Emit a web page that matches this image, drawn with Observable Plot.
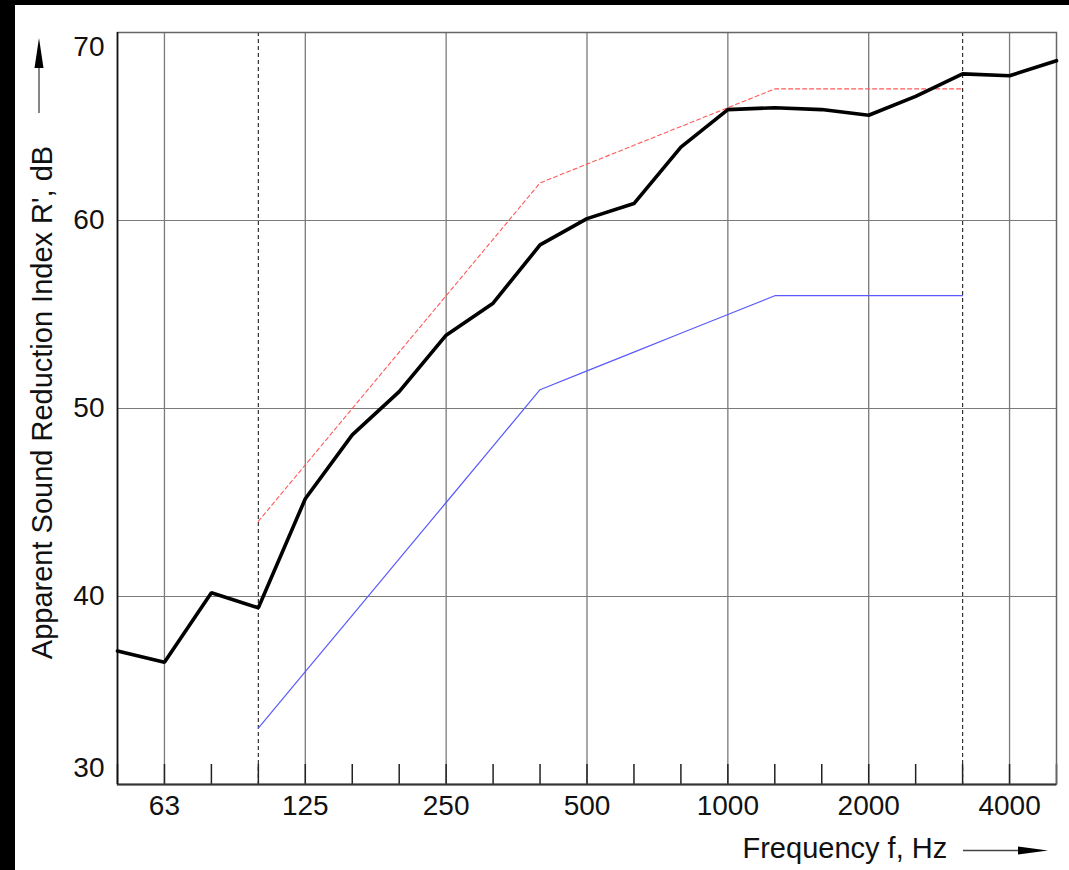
<!DOCTYPE html>
<html><head><meta charset="utf-8">
<script src="https://cdn.jsdelivr.net/npm/d3@7"></script>
<script src="https://cdn.jsdelivr.net/npm/@observablehq/plot@0.6"></script>
<style>
html,body{margin:0;padding:0;background:#fff;}
#wrap{position:relative;width:1069px;height:870px;overflow:hidden;background:#fff;}
#wrap svg{position:absolute;left:0;top:0;display:block;}
.bt{position:absolute;left:0;top:0;width:1069px;height:5px;background:#000;z-index:2;}
.bl{position:absolute;left:0;top:0;width:15px;height:870px;background:#000;z-index:2;}
</style></head><body>
<div id="wrap"><div class="bt"></div><div class="bl"></div></div>
<script>
// one-third octave band centre frequencies (Hz)
const bands = ["50","63","80","100","125","160","200","250","315","400","500","630","800","1000","1250","1600","2000","2500","3150","4000","5000"];
// measured apparent sound reduction index R' (dB), black curve
const measured = [37.1,36.5,40.2,39.4,45.2,48.6,50.9,53.9,55.6,58.7,60.1,60.9,63.9,65.9,66.0,65.9,65.6,66.6,67.8,67.7,68.5];
// reference curve bands (100 - 3150 Hz)
const refBands = ["100","125","160","200","250","315","400","500","630","800","1000","1250","1600","2000","2500","3150"];
// reference curve (blue)
const reference = [33,36,39,42,45,48,51,52,53,54,55,56,56,56,56,56];
// shifted reference curve (red dashed)
const shifted = [44,47,50,53,56,59,62,63,64,65,66,67,67,67,67,67];
// axis ticks
const octaveTicks = ["63","125","250","500","1000","2000","4000"];
const yTicksMid = [40,50,60];
const yTickTop = [70];
const yTickBottom = [30];
const gridY = [40,50,60];
const dashedBands = ["100","3150"];
const yLabel = "Apparent Sound Reduction Index R', dB";
const xLabel = "Frequency f, Hz";

const idx = b => bands.indexOf(b);
const measuredData = bands.map((b, i) => ({i, v: measured[i]}));
const refData = refBands.map((b, k) => ({i: idx(b), v: reference[k]}));
const shiftData = refBands.map((b, k) => ({i: idx(b), v: shifted[k]}));

const font = "'Liberation Sans', Arial, Helvetica, sans-serif";

const chart = Plot.plot({
  width: 1069, height: 870,
  marginLeft: 117, marginRight: 13, marginTop: 32, marginBottom: 86,
  x: {type: "linear", domain: [0, bands.length - 1], axis: null},
  y: {domain: [30, 70], axis: null},
  style: {fontFamily: font, background: "transparent", color: "#111"},
  marks: [
    Plot.ruleY(gridY, {stroke: "#7a7a7a", strokeWidth: 1.2}),
    Plot.ruleX(octaveTicks.map(d => idx(d)), {stroke: "#7a7a7a", strokeWidth: 1.3}),
    Plot.ruleX(dashedBands.map(d => idx(d)), {stroke: "#333", strokeWidth: 1.2, strokeDasharray: "4,3"}),
    Plot.ruleX(bands.map((b, i) => i), {stroke: "#222", strokeWidth: 1.5, insetTop: 732}),
    Plot.frame({stroke: "#666", strokeWidth: 1.5}),
    Plot.ruleY([30], {stroke: "#333", strokeWidth: 2}),
    Plot.ruleX([0], {stroke: "#111", strokeWidth: 1.6}),
    Plot.line(refData, {x: "i", y: "v", stroke: "#5a5aff", strokeWidth: 1.2}),
    Plot.line(shiftData, {x: "i", y: "v", stroke: "#ff5a5a", strokeWidth: 1.1, strokeDasharray: "4,3"}),
    Plot.line(measuredData, {x: "i", y: "v", stroke: "#000", strokeWidth: 3.6, strokeLinejoin: "miter"}),
    Plot.text(octaveTicks, {x: d => idx(d), text: d => d, frameAnchor: "bottom", dy: 22, lineAnchor: "middle", textAnchor: "middle", fontSize: 28, fill: "#111"}),
    Plot.text(yTicksMid, {y: d => d, text: d => String(d), frameAnchor: "left", dx: -13, textAnchor: "end", lineAnchor: "middle", fontSize: 28, fill: "#111"}),
    Plot.text(yTickTop, {y: d => d, text: d => String(d), frameAnchor: "left", dx: -13, dy: 15, textAnchor: "end", lineAnchor: "middle", fontSize: 28, fill: "#111"}),
    Plot.text(yTickBottom, {y: d => d, text: d => String(d), frameAnchor: "left", dx: -13, dy: -16, textAnchor: "end", lineAnchor: "middle", fontSize: 28, fill: "#111"}),
    Plot.text([yLabel], {text: d => d, frameAnchor: "left", dx: -75, dy: -6, rotate: -90, textAnchor: "middle", lineAnchor: "middle", fontSize: 29, fill: "#111"}),
    Plot.text([xLabel], {text: d => d, frameAnchor: "bottom-right", dx: -314, dy: 64, textAnchor: "start", lineAnchor: "middle", fontSize: 29, fill: "#111"})
  ]
});

const svg = d3.select(chart);
// axis arrows (annotations)
svg.append("line").attr("x1", 39).attr("y1", 113).attr("x2", 39).attr("y2", 66)
  .attr("stroke", "#444").attr("stroke-width", 1.3);
svg.append("path").attr("d", "M39,38 L34.5,68 L43.5,68 Z").attr("fill", "#000");
svg.append("line").attr("x1", 963).attr("y1", 850.5).attr("x2", 1020).attr("y2", 850.5)
  .attr("stroke", "#444").attr("stroke-width", 1.3);
svg.append("path").attr("d", "M1048,850.5 L1018,846.5 L1018,854.5 Z").attr("fill", "#000");

document.getElementById("wrap").prepend(chart);
</script>
</body></html>
